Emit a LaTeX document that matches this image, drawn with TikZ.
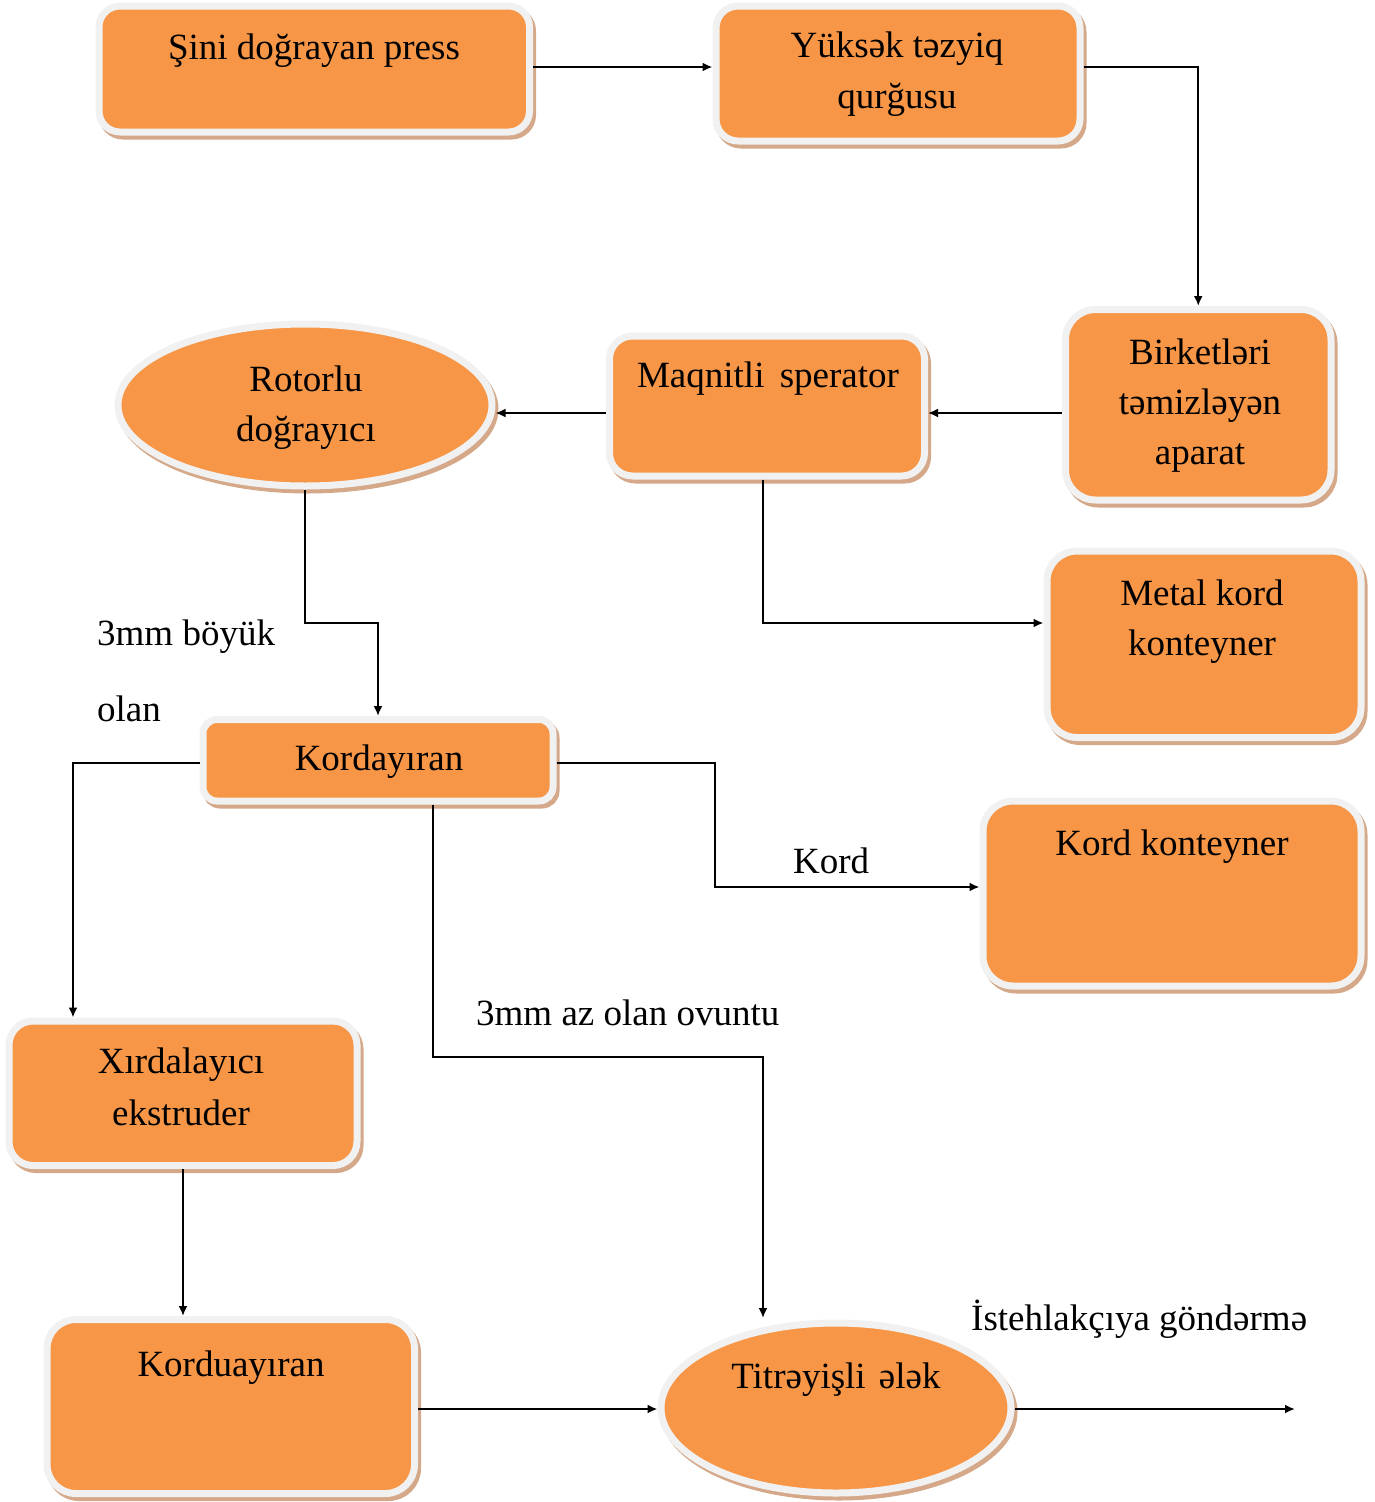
\documentclass[tikz,border=0pt]{standalone}
\usepackage{fontspec}
\setmainfont{Liberation Serif}
\usetikzlibrary{arrows.meta,shapes.geometric}
\definecolor{boxfill}{RGB}{247,150,70}
\definecolor{boxrim}{RGB}{241,241,241}
\definecolor{boxshade}{RGB}{212,168,136}
\newcommand\stack[1]{\begin{tabular}[t]{@{}c@{}}#1\end{tabular}}
\begin{document}
\begin{tikzpicture}[x=1pt,y=-1pt,
  castshadow/.style={preaction={fill=boxshade,draw=boxshade,line width=7pt,
      transform canvas={shift={(3pt,-4pt)}}}},
  stage/.style={castshadow,rectangle,fill=boxfill,draw=boxrim,line width=7pt,inner sep=0pt},
  oval/.style={castshadow,ellipse,fill=boxfill,draw=boxrim,line width=7pt,inner sep=0pt},
  txt/.style={anchor=base,inner sep=0pt,font=\fontsize{37}{50}\selectfont},
  lbl/.style={anchor=base west,inner sep=0pt,font=\fontsize{37}{50}\selectfont},
  arr/.style={line width=2pt,-{Latex[length=10pt,width=9pt]}}]
\useasboundingbox (0,0) rectangle (1375,1502);

% process stages
\node[stage,minimum width=430.5pt,minimum height=126pt,rounded corners=21pt] (press) at (314.25,69) {};
\node[stage,minimum width=364pt,minimum height=135pt,rounded corners=22pt] (tazyiq) at (898,73.5) {};
\node[stage,minimum width=265.5pt,minimum height=190.5pt,rounded corners=30pt] (birket) at (1198.25,404.75) {};
\node[stage,minimum width=315pt,minimum height=140pt,rounded corners=23pt] (maqnit) at (767,406) {};
\node[oval,minimum width=374pt,minimum height=162pt] (rotor) at (305,405) {};
\node[stage,minimum width=314pt,minimum height=186.5pt,rounded corners=30pt] (metal) at (1204,644.25) {};
\node[stage,minimum width=350pt,minimum height=81.5pt,rounded corners=14pt] (kordayiran) at (378,760.25) {};
\node[stage,minimum width=378pt,minimum height=185pt,rounded corners=30pt] (kordkont) at (1172,893.5) {};
\node[stage,minimum width=348pt,minimum height=144.5pt,rounded corners=24pt] (xirda) at (183,1093.25) {};
\node[stage,minimum width=367.5pt,minimum height=174pt,rounded corners=29pt] (korduay) at (230.75,1406.5) {};
\node[oval,minimum width=350pt,minimum height=170pt] (alak) at (836,1408) {};

% stage captions
\node[txt] (tpress) at (314,59) {Şini doğrayan press};
\node[txt,font=\fontsize{37}{51}\selectfont] (ttazyiq) at (897,57) {\stack{Yüksək təzyiq\\qurğusu}};
\node[txt] (tbirket) at (1200,364) {\stack{Birketləri\\təmizləyən\\aparat}};
\node[txt] (tmaqnit) at (768,387) {Maqnitli\hspace{6pt} sperator};
\node[txt] (trotor) at (306,391) {\stack{Rotorlu\\doğrayıcı}};
\node[txt] (tmetal) at (1202,605) {\stack{Metal kord\\konteyner}};
\node[txt] (tkordayiran) at (379,770) {Kordayıran};
\node[txt] (tkordkont) at (1172,855) {Kord konteyner};
\node[txt,font=\fontsize{37}{52}\selectfont] (txirda) at (181,1073) {\stack{Xırdalayıcı\\ekstruder}};
\node[txt] (tkorduay) at (231,1376) {Korduayıran};
\node[txt] (talak) at (836,1388) {Titrəyişli\hspace{4pt} ələk};

% free labels
\node[lbl] (lboyuk) at (97,645) {3mm böyük};
\node[lbl] (lolan) at (97,721) {olan};
\node[lbl] (lkord) at (793,873) {Kord};
\node[lbl] (lovuntu) at (476,1025) {3mm az olan ovuntu};
\node[lbl] (listeh) at (971,1330) {İstehlakçıya göndərmə};

% routing points
\coordinate (row1) at (0,67);
\coordinate (row2) at (0,413);
\coordinate (drop) at (763,623);
\coordinate (leftrun) at (73,763);
\coordinate (kordbend) at (715,887);
\coordinate (finebend) at (433,1057);
\coordinate (fineend) at (763,1318);
\coordinate (exit) at (1295,1409);

% connectors
\draw[arr] (press.east |- row1) -- (tazyiq.west |- row1);
\draw[arr] (tazyiq.east |- row1) -| (birket.north);
\draw[arr] (birket.west |- row2) -- (maqnit.east |- row2);
\draw[arr] (maqnit.west |- row2) -- (rotor.east |- row2);
\draw[arr] (maqnit.south -| drop) |- (metal.west |- drop);
\draw[arr] (rotor.south) -- (rotor.south |- drop) -| (kordayiran.north);
\draw[arr] (kordayiran.west |- leftrun) -| (xirda.north -| leftrun);
\draw[arr] (kordayiran.east |- leftrun) -| (kordbend) -- (kordbend -| kordkont.west);
\draw[arr] (kordayiran.south -| finebend) -- (finebend) -| (fineend);
\draw[arr] (xirda.south) -- (xirda.south |- korduay.north);
\draw[arr] (korduay.east |- exit) -- (alak.west |- exit);
\draw[arr] (alak.east |- exit) -- (exit);
\end{tikzpicture}
\end{document}
